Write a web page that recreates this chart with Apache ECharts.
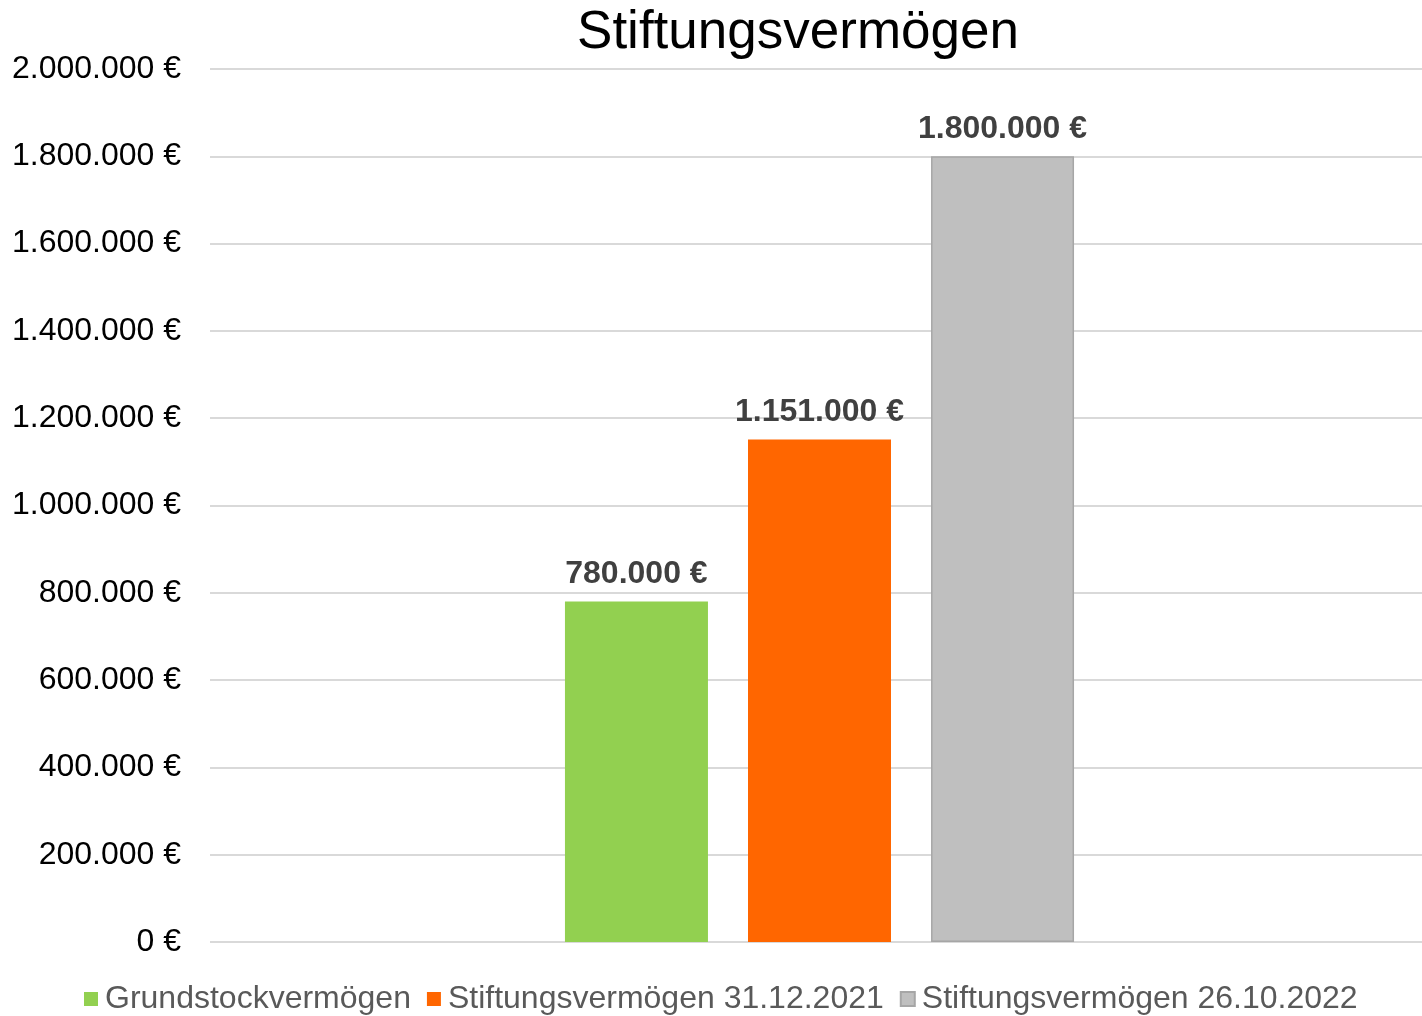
<!DOCTYPE html>
<html>
<head>
<meta charset="utf-8">
<script src="https://cdn.jsdelivr.net/npm/echarts@6/dist/echarts.min.js"></script>
<style>
  html, body { margin: 0; padding: 0; background: #fff; }
  #chart { width: 1422px; height: 1016px; }
</style>
</head>
<body>
<div id="chart"></div>
<script>
  // ==== Daten ====
  const categories = ['']
  const seriesNames = ['Grundstockvermögen', 'Stiftungsvermögen 31.12.2021', 'Stiftungsvermögen 26.10.2022']
  const seriesValues = [780000, 1151000, 1800000]
  const seriesColors = ['#92D050', '#FF6600', '#BFBFBF']
  const yTicks = [0, 200000, 400000, 600000, 800000, 1000000, 1200000, 1400000, 1600000, 1800000, 2000000]

  const FONT = '"Liberation Sans", Arial, sans-serif'

  const formatEuro = (value) => {
    const s = String(Math.round(value)).replace(/\B(?=(\d{3})+(?!\d))/g, '.')
    return s + ' €'
  }

  const chart = echarts.init(document.getElementById('chart'))

  chart.setOption({
    animation: false,
    backgroundColor: '#fff',
    title: {
      text: 'Stiftungsvermögen',
      left: 793,
      textAlign: 'center',
      top: 2,
      textStyle: { fontFamily: FONT, fontSize: 53, fontWeight: 'normal', color: '#000' }
    },
    legend: {
      top: 983,
      left: 84,
      padding: 0,
      itemWidth: 14,
      itemHeight: 14,
      itemGap: 16,
      icon: 'rect',
      textStyle: { fontFamily: FONT, fontSize: 32, color: '#595959', padding: [0, 0, 0, 2] },
      data: seriesNames
    },
    grid: { left: 210, right: -7, top: 69, bottom: 74, outerBoundsMode: 'none' },
    xAxis: {
      type: 'category',
      data: categories,
      axisLine: { show: false },
      axisTick: { show: false },
      axisLabel: { show: false }
    },
    yAxis: {
      type: 'value',
      min: yTicks[0],
      max: yTicks[yTicks.length - 1],
      interval: yTicks[1] - yTicks[0],
      axisLine: { show: false },
      axisTick: { show: false },
      axisLabel: {
        fontFamily: FONT,
        fontSize: 32,
        color: '#000',
        margin: 29,
        formatter: (v) => formatEuro(v)
      },
      splitLine: { lineStyle: { color: '#D9D9D9', width: 2 } }
    },
    series: seriesNames.map((name, i) => ({
      name,
      type: 'bar',
      data: [seriesValues[i]],
      barWidth: 143,
      barGap: '28%',
      itemStyle: {
        color: seriesColors[i],
        borderColor: i === 2 ? '#A6A6A6' : seriesColors[i],
        borderWidth: i === 2 ? 1.5 : 0
      },
      label: {
        show: true,
        position: 'top',
        distance: 11,
        fontFamily: FONT,
        fontSize: 32,
        fontWeight: 'bold',
        color: '#404040',
        formatter: (p) => formatEuro(p.value)
      }
    }))
  })

  window.addEventListener('resize', () => chart.resize())
</script>
</body>
</html>
